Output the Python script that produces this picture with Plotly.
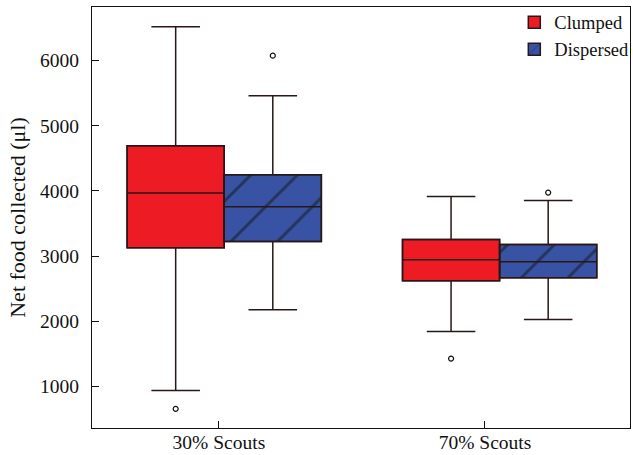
import plotly.graph_objects as go

categories = ["30% Scouts", "70% Scouts"]
series_names = ["Clumped", "Dispersed"]

clumped_lower = [940, 1845]
clumped_q1 = [3130, 2625]
clumped_median = [3970, 2945]
clumped_q3 = [4695, 3255]
clumped_upper = [6520, 3915]
clumped_outliers = [[660], [1430]]

dispersed_lower = [2180, 2030]
dispersed_q1 = [3225, 2670]
dispersed_median = [3760, 2915]
dispersed_q3 = [4250, 3180]
dispersed_upper = [5460, 3855]
dispersed_outliers = [[6075], [3975]]

y_ticks = [1000, 2000, 3000, 4000, 5000, 6000]

RED = "#ED1C24"
BLUE = "#3953A4"
EDGE = "#2a1616"
FONT = "Liberation Serif"

BOX_W = 0.365
GROUP_OFFSETS = [0.02, 0.055]

series = [
    dict(name="Clumped", color=RED, pattern="", lo=clumped_lower, q1=clumped_q1, med=clumped_median,
         q3=clumped_q3, hi=clumped_upper, out=clumped_outliers, side=-1),
    dict(name="Dispersed", color=BLUE, pattern="/", lo=dispersed_lower, q1=dispersed_q1, med=dispersed_median,
         q3=dispersed_q3, hi=dispersed_upper, out=dispersed_outliers, side=1),
]

fig = go.Figure()
for s in series:
    xs = [i + GROUP_OFFSETS[i] + s["side"] * BOX_W / 2 for i in range(len(categories))]
    fig.add_trace(go.Bar(
        x=xs, base=s["q1"], y=[b - a for a, b in zip(s["q1"], s["q3"])], width=BOX_W,
        name=s["name"],
        marker=dict(color=s["color"], line=dict(color=EDGE, width=1.5),
                    pattern=dict(shape=s["pattern"], fgcolor="#111111", bgcolor=s["color"],
                                 size=33, solidity=0.09, fillmode="overlay")),
        showlegend=True,
    ))
    fig.add_trace(go.Box(
        x=xs, q1=s["q1"], median=s["med"], q3=s["q3"], lowerfence=s["lo"], upperfence=s["hi"],
        width=BOX_W, whiskerwidth=0.5, fillcolor="rgba(0,0,0,0)",
        line=dict(color=EDGE, width=1.5), boxpoints=False, showlegend=False, hoverinfo="skip",
    ))
    ox, oy = [], []
    for x, vals in zip(xs, s["out"]):
        for v in vals:
            ox.append(x)
            oy.append(v)
    fig.add_trace(go.Scatter(
        x=ox, y=oy, mode="markers", showlegend=False,
        marker=dict(symbol="circle-open", size=5, color="#111111", line=dict(width=1.2)),
    ))

fig.update_layout(
    width=633, height=455,
    margin=dict(l=92, r=3, t=7, b=27, autoexpand=False),
    plot_bgcolor="white", paper_bgcolor="white",
    barmode="overlay", boxmode="overlay",
    font=dict(family=FONT, size=19.5, color="#111111"),
    legend=dict(x=1.008, y=1.008, xanchor="right", yanchor="top", bgcolor="rgba(0,0,0,0)",
                font=dict(family=FONT, size=18.5), tracegroupgap=0, itemwidth=30),
    xaxis=dict(range=[-0.477, 1.545], tickvals=list(range(len(categories))), ticktext=categories,
               ticks="inside", ticklen=7, tickcolor="#111111", showline=True, linecolor="#111111",
               linewidth=1.2, mirror=True, showgrid=False, zeroline=False, automargin=False,
               ticklabelstandoff=-4),
    yaxis=dict(range=[366, 6821], tickvals=y_ticks, ticks="inside", ticklen=7, tickcolor="#111111",
               showline=True, linecolor="#111111", linewidth=1.2, mirror=True, showgrid=False,
               zeroline=False, automargin=False, ticklabelstandoff=8,
               title=dict(text="Net food collected (μl)", font=dict(size=22), standoff=8)),
)

fig.write_html(
    "out.html",
    config={"displayModeBar": False},
    post_script="document.body.style.margin='0';document.body.style.padding='0';"
                "document.body.style.overflow='hidden';",
)
